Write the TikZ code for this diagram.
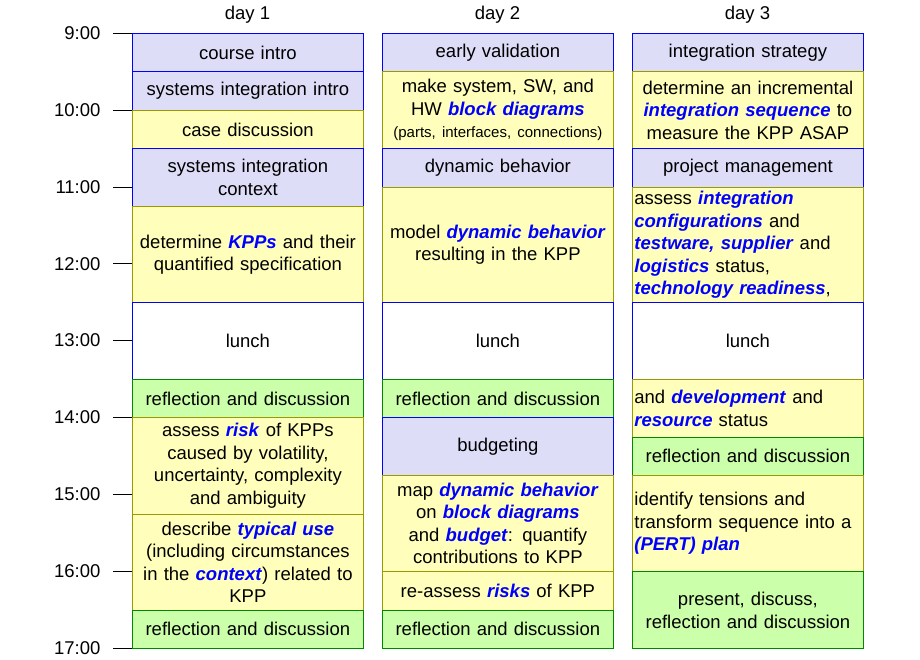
\documentclass[tikz,border=0pt]{standalone}
\usepackage{fontspec}
\setmainfont{Liberation Sans}
\definecolor{lavfill}{HTML}{DDDDF8}
\definecolor{yelfill}{HTML}{FFFFBB}
\definecolor{grnfill}{HTML}{CCFFAA}
\definecolor{olive}{HTML}{999900}
\definecolor{dkgreen}{HTML}{008800}
\newcommand{\kw}[1]{\textcolor{blue}{\textbf{\textit{#1}}}}
\newcommand{\blk}[6]{\node[#1,minimum height=#5*76.9pt,anchor=north west] (#2) at (#3,#4) {#6};}

\begin{document}
\begin{tikzpicture}[
  x=1pt, y=-76.9pt,
  every node/.style={font=\fontsize{18.5}{22.5}\selectfont},
  box/.style={draw, line width=0.8pt, minimum width=231pt, text width=227pt, inner sep=2pt, align=center},
  lav/.style={box, fill=lavfill, draw=blue},
  wht/.style={box, fill=white, draw=blue},
  yel/.style={box, fill=yelfill, draw=olive},
  grn/.style={box, fill=grnfill, draw=dkgreen},
  lft/.style={align=left}
  ]
  \useasboundingbox (0,-0.429) rectangle (920,8.153);

  % time axis
  \foreach \h [count=\i from 0] in {9,...,17} {
    \coordinate (t\h) at (113,\i);
    \draw (t\h) -- ++(19,0);
    \node[anchor=east] (lab\h) at (104,\i) {\h:00};
  }

  % day labels
  \node (day1) at (247.5,-0.24) {day 1};
  \node (day2) at (497.5,-0.24) {day 2};
  \node (day3) at (747.5,-0.24) {day 3};

  % day 1
  \blk{lav}{d1a}{132}{0}{0.5}{course intro}
  \blk{lav}{d1b}{132}{0.5}{0.5}{systems integration intro}
  \blk{yel}{d1c}{132}{1}{0.5}{case discussion}
  \blk{lav}{d1d}{132}{1.5}{0.75}{systems integration\\context}
  \blk{yel}{d1e}{132}{2.25}{1.25}{determine \kw{KPPs} and their\\quantified specification}
  \blk{wht}{d1f}{132}{3.5}{1}{lunch}
  \blk{grn}{d1g}{132}{4.5}{0.5}{reflection and discussion}
  \blk{yel}{d1h}{132}{5}{1.25}{assess \kw{risk} of KPPs\\caused by volatility,\\uncertainty, complexity\\and ambiguity}
  \blk{yel}{d1i}{132}{6.25}{1.25}{describe \kw{typical use}\\(including circumstances\\in the \kw{context}) related to\\KPP}
  \blk{grn}{d1j}{132}{7.5}{0.5}{reflection and discussion}

  % day 2
  \blk{lav}{d2a}{382}{0}{0.5}{early validation}
  \blk{yel}{d2b}{382}{0.5}{1}{make system, SW, and\\HW \kw{block diagrams}\\{\fontsize{15}{17}\selectfont(parts, interfaces, connections)}}
  \blk{lav}{d2c}{382}{1.5}{0.5}{dynamic behavior}
  \blk{yel}{d2d}{382}{2}{1.5}{model \kw{dynamic behavior}\\resulting in the KPP}
  \blk{wht}{d2e}{382}{3.5}{1}{lunch}
  \blk{grn}{d2f}{382}{4.5}{0.5}{reflection and discussion}
  \blk{lav}{d2g}{382}{5}{0.75}{budgeting}
  \blk{yel}{d2h}{382}{5.75}{1.25}{map \kw{dynamic behavior}\\on \kw{block diagrams}\\and \kw{budget}: quantify\\contributions to KPP}
  \blk{yel}{d2i}{382}{7}{0.5}{re-assess \kw{risks} of KPP}
  \blk{grn}{d2j}{382}{7.5}{0.5}{reflection and discussion}

  % day 3
  \blk{lav}{d3a}{632}{0}{0.5}{integration strategy}
  \blk{yel}{d3b}{632}{0.5}{1}{determine an incremental\\\kw{integration sequence} to\\measure the KPP ASAP}
  \blk{lav}{d3c}{632}{1.5}{0.5}{project management}
  \blk{yel,lft}{d3d}{632}{2}{1.5}{assess \kw{integration}\\\kw{configurations} and\\\kw{testware, supplier} and\\\kw{logistics} status,\\\kw{technology readiness},}
  \blk{wht}{d3e}{632}{3.5}{1}{lunch}
  \blk{yel,lft}{d3f}{632}{4.5}{0.75}{and \kw{development} and\\\kw{resource} status}
  \blk{grn}{d3g}{632}{5.25}{0.5}{reflection and discussion}
  \blk{yel,lft}{d3h}{632}{5.75}{1.25}{identify tensions and\\transform sequence into a\\\kw{(PERT) plan}}
  \blk{grn}{d3i}{632}{7}{1}{present, discuss,\\reflection and discussion}
\end{tikzpicture}
\end{document}
